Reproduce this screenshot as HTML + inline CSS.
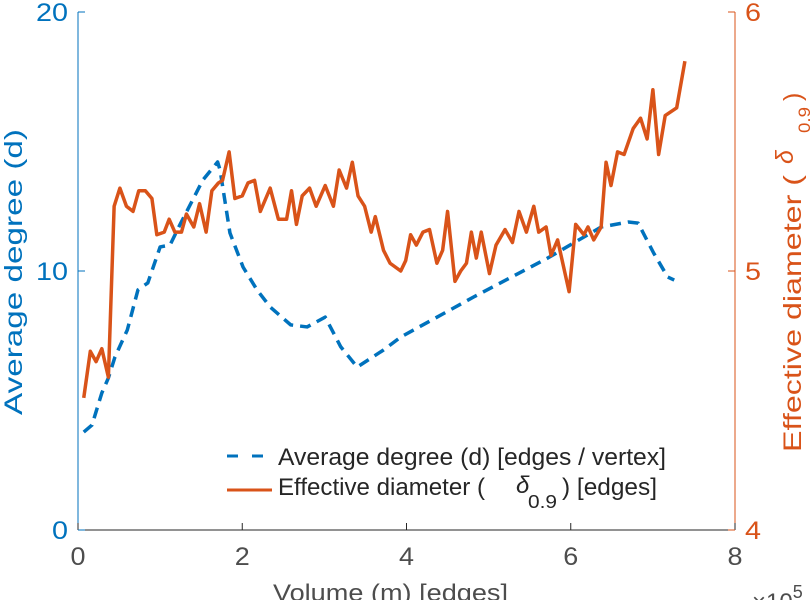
<!DOCTYPE html>
<html><head><meta charset="utf-8"><style>
body{margin:0;background:#fff;}
svg{display:block;font-family:"Liberation Sans",sans-serif;}
</style></head><body>
<svg id="chart" width="812" height="600">
<g id="axes"></g>
<g id="series"></g>
<g>
  <line x1="227" y1="456" x2="265" y2="456" stroke="#0072BD" stroke-width="3" stroke-dasharray="11,14"/>
  <text x="278" y="465" font-size="24" fill="#262626" textLength="388" lengthAdjust="spacingAndGlyphs">Average degree (d) [edges / vertex]</text>
  <line x1="227" y1="490" x2="272" y2="490" stroke="#D95319" stroke-width="3"/>
  <g>
  <text x="278" y="495" font-size="24" fill="#262626" textLength="207" lengthAdjust="spacingAndGlyphs">Effective diameter (</text>
  <text x="516" y="493" font-size="24" font-style="italic" fill="#262626">δ</text>
  <text x="528" y="508" font-size="18" fill="#262626" textLength="29" lengthAdjust="spacingAndGlyphs">0.9</text>
  <text x="562" y="495" font-size="24" fill="#262626" textLength="95" lengthAdjust="spacingAndGlyphs">) [edges]</text>
  </g>
</g>
<text x="273" y="601" font-size="24" fill="#4d4d4d" textLength="235" lengthAdjust="spacingAndGlyphs">Volume (m) [edges]</text>
<text x="752" y="610" font-size="24" fill="#4d4d4d">×10<tspan font-size="18" dy="-12">5</tspan></text>
<text transform="translate(22,272) rotate(-90)" x="-143" y="0" font-size="25" fill="#0072BD" textLength="286" lengthAdjust="spacingAndGlyphs">Average degree (d)</text>
<g transform="translate(801,0) rotate(-90)">
  <text x="-452" y="0" font-size="25" fill="#D95319" textLength="277" lengthAdjust="spacingAndGlyphs">Effective diameter (</text>
  <text x="-164" y="-8" font-size="25" font-style="italic" fill="#D95319">δ</text>
  <text x="-133" y="9" font-size="17" fill="#D95319" textLength="26" lengthAdjust="spacingAndGlyphs">0.9</text>
  <text x="-101" y="0" font-size="25" fill="#D95319">)</text>
</g>
</svg>
<script>
const xTicks=[0,2,4,6,8];
const leftTicks=[0,10,20];
const rightTicks=[4,5,6];
const degreeX=[0.07,0.17,0.29,0.37,0.45,0.60,0.73,0.85,1.00,1.12,1.24,1.52,1.70,1.73,1.85,2.01,2.18,2.34,2.59,2.79,3.01,3.20,3.40,3.72,3.93,4.82,5.72,6.37,6.70,6.82,7.01,7.18,7.26];
const degreeY=[3.78,4.05,5.29,5.87,6.68,7.72,9.27,9.54,10.93,11.00,11.78,13.51,14.21,13.90,11.47,10.15,9.27,8.61,7.92,7.84,8.22,7.07,6.29,6.95,7.45,9.00,10.50,11.70,11.89,11.85,10.69,9.77,9.65];
const diamX=[0.07,0.15,0.22,0.29,0.37,0.44,0.51,0.59,0.67,0.74,0.82,0.90,0.96,1.05,1.11,1.18,1.26,1.32,1.41,1.48,1.56,1.63,1.71,1.76,1.84,1.91,2.00,2.07,2.15,2.22,2.34,2.44,2.54,2.60,2.66,2.73,2.82,2.90,3.01,3.11,3.18,3.27,3.34,3.41,3.49,3.57,3.62,3.72,3.80,3.93,3.99,4.05,4.12,4.20,4.28,4.37,4.44,4.50,4.59,4.66,4.73,4.79,4.85,4.91,5.01,5.09,5.20,5.29,5.37,5.46,5.55,5.61,5.70,5.76,5.84,5.98,6.06,6.16,6.21,6.28,6.37,6.43,6.49,6.57,6.65,6.76,6.85,6.93,7.00,7.07,7.15,7.29,7.39];
const diamY=[4.51,4.69,4.65,4.70,4.59,5.25,5.32,5.25,5.23,5.31,5.31,5.28,5.14,5.15,5.20,5.15,5.15,5.22,5.17,5.26,5.15,5.31,5.34,5.35,5.46,5.28,5.29,5.34,5.35,5.23,5.32,5.20,5.20,5.31,5.18,5.29,5.32,5.25,5.33,5.25,5.39,5.32,5.42,5.29,5.25,5.15,5.21,5.08,5.03,5.00,5.04,5.14,5.10,5.15,5.16,5.03,5.08,5.23,4.96,5.00,5.03,5.15,5.05,5.15,4.99,5.10,5.16,5.11,5.23,5.15,5.25,5.15,5.17,5.06,5.12,4.92,5.18,5.14,5.17,5.12,5.17,5.42,5.33,5.46,5.45,5.55,5.59,5.51,5.70,5.45,5.60,5.63,5.81];

const X0=78,X1=735,YT=12,YB=530;
const sx=v=>X0+(v-0)/(8-0)*(X1-X0);
const syL=v=>YB-(v-0)/(20-0)*(YB-YT);
const syR=v=>YB-(v-4)/(6-4)*(YB-YT);
const NS='http://www.w3.org/2000/svg';
const axes=document.getElementById('axes'), series=document.getElementById('series');
function mk(tag,attrs,parent){const e=document.createElementNS(NS,tag);for(const k in attrs)e.setAttribute(k,attrs[k]);parent.appendChild(e);return e;}

let e=mk('line',{x1:X0,y1:YB,x2:X1,y2:YB,stroke:'#262626','stroke-width':1},axes);


e=mk('line',{x1:X0,y1:YT,x2:X0,y2:YB,stroke:'#0072BD','stroke-width':1},axes);


e=mk('line',{x1:X1,y1:YT,x2:X1,y2:YB,stroke:'#D95319','stroke-width':1},axes);



xTicks.forEach(t=>{
  const x=sx(t);
  let l=mk('line',{x1:x,y1:YB,x2:x,y2:YB-7,stroke:'#262626'},axes);
  
  
  let tx=mk('text',{x:x,y:YB+35,'text-anchor':'middle','font-size':25,fill:'#4d4d4d',textLength:15,lengthAdjust:'spacingAndGlyphs'},axes);
  tx.textContent=t;
  
  
});
leftTicks.forEach(t=>{
  const y=syL(t);
  let l=mk('line',{x1:X0,y1:y,x2:X0+7,y2:y,stroke:'#0072BD'},axes);
  
  
  const s=String(t);
  let tx=mk('text',{x:X0-10,y:y+9,'text-anchor':'end','font-size':25,fill:'#0072BD',textLength:s.length*16,lengthAdjust:'spacingAndGlyphs'},axes);
  tx.textContent=s;
  
  
});
rightTicks.forEach(t=>{
  const y=syR(t);
  let l=mk('line',{x1:X1,y1:y,x2:X1-7,y2:y,stroke:'#D95319'},axes);
  
  
  let tx=mk('text',{x:X1+10,y:y+9,'text-anchor':'start','font-size':25,fill:'#D95319',textLength:16,lengthAdjust:'spacingAndGlyphs'},axes);
  tx.textContent=t;
  
  
});

let p=mk('polyline',{points:degreeX.map((x,i)=>sx(x)+','+syL(degreeY[i])).join(' '),fill:'none',stroke:'#0072BD','stroke-width':3.5,'stroke-dasharray':'11,7','stroke-linejoin':'round'},series);


p=mk('polyline',{points:diamX.map((x,i)=>sx(x)+','+syR(diamY[i])).join(' '),fill:'none',stroke:'#D95319','stroke-width':3.5,'stroke-linejoin':'round'},series);


</script>
</body></html>
